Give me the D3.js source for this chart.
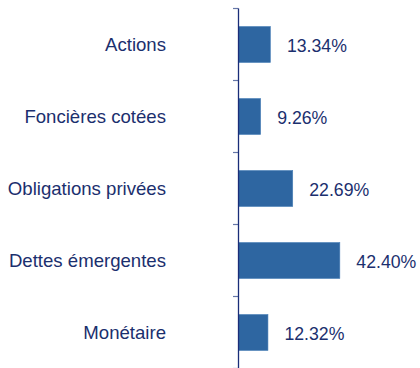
<!DOCTYPE html>
<html>
<head>
<meta charset="utf-8">
<script src="https://cdn.jsdelivr.net/npm/d3@7"></script>
<style>
  html, body { margin: 0; padding: 0; background: #ffffff; }
  svg { display: block; }
</style>
</head>
<body>
<svg id="chart" width="420" height="368"></svg>
<script>
// Allocation by asset class (%)
const categories = ["Actions", "Foncières cotées", "Obligations privées", "Dettes émergentes", "Monétaire"];
const values = [13.34, 9.26, 22.69, 42.40, 12.32];
const valueLabels = ["13.34%", "9.26%", "22.69%", "42.40%", "12.32%"];

const svg = d3.select("#chart");
const axisX = 238.5;
const textColor = "#1b2f6e";
const barColor = "#2e66a1";

const y = d3.scaleBand()
  .domain(categories)
  .range([8.5, 368.5])
  .paddingInner(0.5)
  .paddingOuter(0.25);

const x = d3.scaleLinear()
  .domain([0, 50])
  .range([axisX, axisX + 119.5]);

const step = y.step();

// bars
svg.append("g").selectAll("rect")
  .data(values)
  .join("rect")
  .attr("x", x(0))
  .attr("y", (d, i) => y(categories[i]))
  .attr("width", d => x(d) - x(0))
  .attr("height", y.bandwidth())
  .attr("fill", barColor)
  .attr("stroke", "#4a80b8")
  .attr("stroke-width", 0.6);

// tick marks on band boundaries
const boundaries = d3.range(categories.length + 1).map(i => y.range()[0] + i * step);
svg.append("g").selectAll("line")
  .data(boundaries)
  .join("line")
  .attr("x1", axisX - 5.5)
  .attr("x2", axisX)
  .attr("y1", d => d)
  .attr("y2", d => d)
  .attr("stroke", "#6677a8")
  .attr("stroke-width", 1.2);

// vertical axis line
svg.append("line")
  .attr("x1", axisX).attr("x2", axisX)
  .attr("y1", y.range()[0]).attr("y2", 368)
  .attr("stroke", "#1a2d78")
  .attr("stroke-width", 1.3);

// category labels
svg.append("g").selectAll("text")
  .data(categories)
  .join("text")
  .attr("x", 166)
  .attr("y", d => y(d) + y.bandwidth() / 2)
  .attr("dy", "0.35em")
  .attr("text-anchor", "end")
  .attr("font-family", "Liberation Sans, Arial, sans-serif")
  .attr("font-size", 18.6)
  .attr("fill", textColor)
  .text(d => d);

// value labels
svg.append("g").selectAll("text")
  .data(values)
  .join("text")
  .attr("x", d => x(d) + 16.5)
  .attr("y", (d, i) => y(categories[i]) + y.bandwidth() / 2 + 1)
  .attr("dy", "0.35em")
  .attr("font-family", "Liberation Sans, Arial, sans-serif")
  .attr("font-size", 17.7)
  .attr("fill", textColor)
  .text((d, i) => valueLabels[i]);
</script>
</body>
</html>
